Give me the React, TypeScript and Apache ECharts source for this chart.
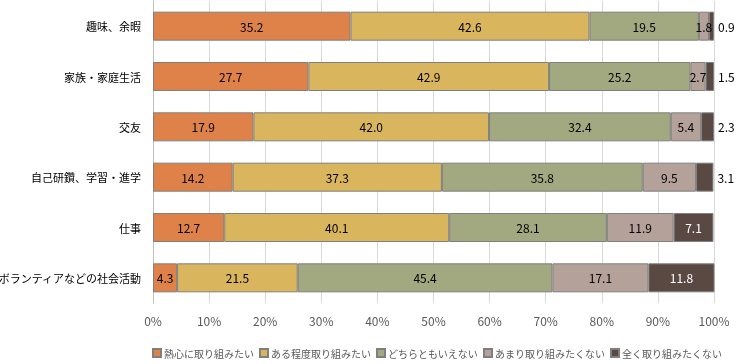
import React, { useEffect, useRef } from "react";
import * as echarts from "echarts";

const categories = [
  "趣味、余暇",
  "家族・家庭生活",
  "交友",
  "自己研鑽、学習・進学",
  "仕事",
  "ボランティアなどの社会活動",
];
const seriesNames = [
  "熱心に取り組みたい",
  "ある程度取り組みたい",
  "どちらともいえない",
  "あまり取り組みたくない",
  "全く取り組みたくない",
];
const veryEager = [35.2, 27.7, 17.9, 14.2, 12.7, 4.3];
const somewhat = [42.6, 42.9, 42.0, 37.3, 40.1, 21.5];
const neutral = [19.5, 25.2, 32.4, 35.8, 28.1, 45.4];
const notMuch = [1.8, 2.7, 5.4, 9.5, 11.9, 17.1];
const notAtAll = [0.9, 1.5, 2.3, 3.1, 7.1, 11.8];
const xTicks = [0, 10, 20, 30, 40, 50, 60, 70, 80, 90, 100];

const colors = ["#DE8249", "#D9B55E", "#A2A880", "#B4A199", "#5A4943"];
const font = '"Noto Sans CJK JP", "Noto Sans", sans-serif';

export default function App() {
  const ref = useRef<HTMLDivElement>(null);
  useEffect(() => {
    if (!ref.current) return;
    const chart = echarts.init(ref.current, undefined, { renderer: "svg" });
    const all = [veryEager, somewhat, neutral, notMuch, notAtAll];
    const series = all.map((arr, si) => ({
      name: seriesNames[si],
      type: "bar",
      stack: "total",
      barWidth: 29,
      itemStyle: { color: colors[si], borderColor: "#7F7F7F", borderWidth: 1 },
      data: arr.map((v, i) => {
        const outside = si === 4 && i < 4;
        return {
          value: v,
          label: {
            show: true,
            position: outside ? "right" : "inside",
            distance: outside ? 4 : 5,
            color: si === 4 && !outside ? "#FFFFFF" : "#000000",
            fontSize: 12,
            fontFamily: font,
            formatter: (p: any) => Number(p.value).toFixed(1),
          },
        };
      }),
    }));
    chart.setOption({
      animation: false,
      textStyle: { fontFamily: font },
      grid: { left: 153, right: 22, top: 1, bottom: 61, outerBoundsMode: "none", containLabel: false },
      xAxis: {
        type: "value",
        min: 0,
        max: 100,
        interval: 10,
        axisLine: { show: false },
        axisTick: { show: false },
        splitLine: { lineStyle: { color: "#D9D9D9", width: 1 } },
        axisLabel: {
          color: "#595959",
          fontSize: 12,
          fontFamily: font,
          margin: 11,
          formatter: (v: number) => (xTicks.includes(v) ? v + "%" : ""),
        },
      },
      yAxis: {
        type: "category",
        data: categories,
        inverse: true,
        axisLine: { show: true, lineStyle: { color: "#BFBFBF" } },
        axisTick: { show: false },
        axisLabel: { color: "#000000", fontSize: 11, fontFamily: font, margin: 12 },
      },
      legend: {
        top: 348,
        left: 152,
        width: 584,
        padding: [0, 0],
        itemWidth: 8,
        itemHeight: 8,
        itemGap: 5,
        icon: "rect",
        textStyle: { color: "#595959", fontSize: 10, fontFamily: font, padding: [0, 0, 0, -2] },
        data: seriesNames,
      },
      series,
    });
    return () => chart.dispose();
  }, []);
  return (
    <div
      ref={ref}
      style={{ position: "fixed", left: 0, top: 0, width: 736, height: 364 }}
    />
  );
}
